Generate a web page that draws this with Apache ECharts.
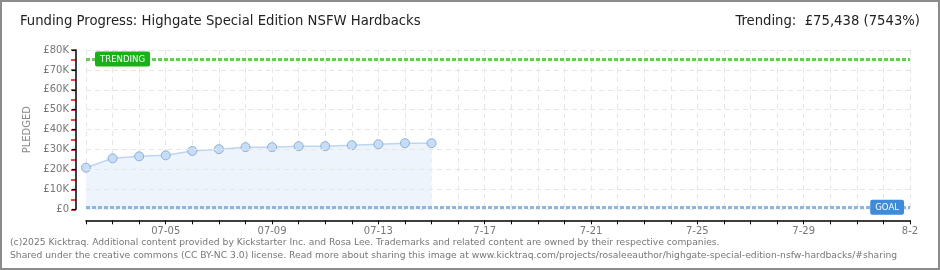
<!DOCTYPE html>
<html>
<head>
<meta charset="utf-8">
<script src="https://cdn.jsdelivr.net/npm/echarts@6/dist/echarts.min.js"></script>
<style>
html,body{margin:0;padding:0;background:#fff;}
#wrap{position:relative;width:940px;height:270px;}
#chart{position:absolute;left:0;top:0;width:940px;height:270px;}
#border{position:absolute;left:0;top:0;width:936px;height:266px;border:2px solid #8c8c8c;pointer-events:none;}
</style>
</head>
<body>
<div id="wrap"><div id="chart"></div><div id="border"></div></div>
<script>
// ---- data ----
const categories = ['07-02','07-03','07-04','07-05','07-06','07-07','07-08','07-09','07-10','07-11','07-12','07-13','07-14','07-15','07-16','07-17','07-18','07-19','07-20','07-21','07-22','07-23','07-24','07-25','07-26','07-27','07-28','07-29','07-30','07-31','08-01','08-02'];
const pledged = [20900, 25600, 26600, 27100, 29300, 30200, 31200, 31200, 31700, 31700, 32200, 32700, 33200, 33200];
const tickLabels = {'07-05':'07-05','07-09':'07-09','07-13':'07-13','07-17':'7-17','07-21':'7-21','07-25':'7-25','07-29':'7-29','08-02':'8-2'};
const yTickLabels = ['£0','£10K','£20K','£30K','£40K','£50K','£60K','£70K','£80K'];
const trendingValue = 75438;
const goalValue = 1000;
const titleText = 'Funding Progress: Highgate Special Edition NSFW Hardbacks';
const trendText = 'Trending:  £75,438 (7543%)';
const footer1 = '(c)2025 Kicktraq. Additional content provided by Kickstarter Inc. and Rosa Lee. Trademarks and related content are owned by their respective companies.';
const footer2 = 'Shared under the creative commons (CC BY-NC 3.0) license. Read more about sharing this image at www.kicktraq.com/projects/rosaleeauthor/highgate-special-edition-nsfw-hardbacks/#sharing';

const chart = echarts.init(document.getElementById('chart'), null, {renderer:'canvas'});
const axisFont = 'DejaVu Sans';
const titleStyle = {fontFamily:'DejaVu Sans Condensed',fontSize:14.7,fontWeight:'normal',color:'#222'};
const footStyle = {fontFamily:'DejaVu Sans',fontSize:9.2,fontWeight:'normal',color:'#777'};
chart.setOption({
  animation:false,
  backgroundColor:'#fff',
  title:[
    {text:titleText,left:20,top:14,padding:0,textStyle:titleStyle},
    {text:trendText,right:20,top:14,padding:0,textStyle:titleStyle},
    {text:footer1,left:10,top:238,padding:0,textStyle:footStyle},
    {text:footer2,left:10,top:251,padding:0,textStyle:footStyle}
  ],
  grid:{left:86,right:30,top:50,bottom:60.7},
  xAxis:{
    type:'category',data:categories,boundaryGap:false,offset:11,
    axisLine:{onZero:false,lineStyle:{color:'#000',width:1.5}},
    axisTick:{show:true,interval:0,length:4,lineStyle:{color:'#000'}},
    axisLabel:{interval:(i,v)=>tickLabels[v]!==undefined,formatter:v=>tickLabels[v]||'',color:'#777',fontFamily:axisFont,fontSize:10,margin:6},
    splitLine:{show:true,interval:0,lineStyle:{color:'#e6e6e6',type:[5,4]}}
  },
  yAxis:[{
    type:'value',min:0,max:80000,interval:10000,offset:10,z:5,position:'left',
    name:'PLEDGED',nameLocation:'middle',nameGap:35,nameRotate:90,
    nameTextStyle:{color:'#888',fontFamily:axisFont,fontSize:10},
    axisLine:{show:true,onZero:false,lineStyle:{color:'#000',width:1.5}},
    axisTick:{show:true,length:4,lineStyle:{color:'#000',width:1.2}},
    axisLabel:{formatter:(v)=>yTickLabels[Math.round(v/10000)],color:'#777',fontFamily:axisFont,fontSize:10,margin:7},
    splitLine:{show:true,lineStyle:{color:'#e6e6e6',type:[5,4]}}
  },{
    type:'value',min:0,max:80000,interval:5000,offset:10,z:1,position:'left',
    axisLine:{show:false,onZero:false},
    axisTick:{show:true,length:5,lineStyle:{color:'#ff0000',width:1.5}},
    axisLabel:{show:false},
    splitLine:{show:false}
  }],
  series:[{
    type:'line',data:pledged,
    symbol:'circle',symbolSize:9,
    itemStyle:{color:'#c5ddf6',borderColor:'#8fb0d8',borderWidth:1},
    lineStyle:{color:'#bcd6f2',width:1.5},
    areaStyle:{color:'#edf4fc',opacity:1},
    markLine:{
      silent:true,symbol:'none',
      data:[
        {yAxis:trendingValue,lineStyle:{color:'#66cc55',width:3,type:[4,2]},
          label:{show:true,formatter:'TRENDING',position:'insideStart',distance:[9,0],verticalAlign:'middle',
            backgroundColor:'#15b315',color:'#fff',fontFamily:'DejaVu Sans Condensed',fontSize:9.5,padding:[3,5,2,5],borderRadius:2}},
        {yAxis:goalValue,lineStyle:{color:'#8db6e6',width:3,type:[4,2]},
          label:{show:true,formatter:'GOAL',position:'insideEnd',distance:[6,0],verticalAlign:'middle',
            backgroundColor:'#3f8bdb',color:'#fff',fontFamily:'DejaVu Sans Condensed',fontSize:9.5,padding:[3,5,2,5],borderRadius:2}}
      ]
    }
  }]
});
</script>
</body>
</html>
